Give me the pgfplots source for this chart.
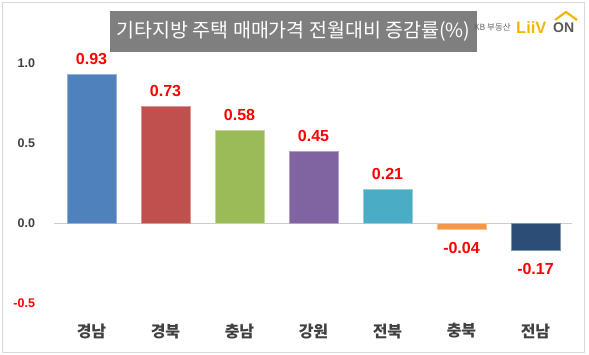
\documentclass[border=0pt]{standalone}
\usepackage{fontspec}
\setmainfont{Liberation Sans}
\newfontfamily\kr{Noto Sans CJK KR}
\usepackage{pgfplots}
\pgfplotsset{compat=1.18}
\definecolor{c1}{HTML}{4F81BD}
\definecolor{c2}{HTML}{C0504D}
\definecolor{c3}{HTML}{9BBB59}
\definecolor{c4}{HTML}{8064A2}
\definecolor{c5}{HTML}{4BACC6}
\definecolor{c6}{HTML}{F79646}
\definecolor{c7}{HTML}{2C4D75}
\definecolor{tick}{HTML}{404040}
\definecolor{titlebg}{HTML}{7F7F7F}
\definecolor{liiv}{HTML}{F2B705}
\begin{document}
\begin{tikzpicture}[x=1pt,y=1pt]
\useasboundingbox (0pt,0pt) rectangle (589pt,355pt);
\draw[black!15] (2.5pt,2.5pt) rectangle (584pt,353pt);
% title
\node[fill=titlebg, minimum width=367pt, minimum height=41pt, inner sep=0pt, text=white] at (293.5pt,323.5pt)
  {\kr\fontsize{19.5}{22}\selectfont 기타지방 주택 매매가격 전월대비 증감률(\%)};
% logo
\node[text=black!60, anchor=west, inner sep=0pt] at (474pt,328pt) {\kr\fontsize{8.5}{10}\selectfont KB 부동산};
\node[text=liiv, anchor=west, inner sep=0pt] at (516pt,327pt) {\bfseries\fontsize{16.5}{18}\selectfont LiiV};
\node[text=black!65, anchor=west, inner sep=0pt] at (553pt,327pt) {\bfseries\fontsize{14}{16}\selectfont ON};
\draw[liiv, line width=2.2pt] (555pt,335pt) -- (566pt,343pt) -- (577pt,335pt);
\begin{axis}[
  at={(54.5pt,52pt)}, anchor=south west, scale only axis,
  width=518pt, height=240pt,
  xmin=-0.5, xmax=6.5, ymin=-0.5, ymax=1.0,
  axis line style={draw=none},
  major tick length=0pt,
  ybar, bar width=49pt, bar shift=0pt,
  xtick={0,1,2,3,4,5,6},
  xticklabels={경남,경북,충남,강원,전북,충북,전남},
  xticklabel style={font=\kr\bfseries\fontsize{16}{18}\selectfont, text=tick, yshift=-17pt},
  ytick={-0.5,0,0.5,1},
  yticklabels={{\color{red}-0.5},0.0,0.5,1.0},
  yticklabel style={font=\bfseries\fontsize{12.5}{14}\selectfont, text=tick, xshift=-16pt},
  clip=false,
  nodes near coords,
  nodes near coords style={font=\bfseries\fontsize{16}{18}\selectfont, text=red, inner xsep=2pt, inner ysep=9pt,
     /pgf/number format/fixed, /pgf/number format/fixed zerofill, /pgf/number format/precision=2,
     /pgf/number format/assume math mode=true},
]
\draw[black!20] (axis cs:-0.5,0) -- (axis cs:6.5,0);
\addplot[fill=c1, draw=c1!60!white, line width=0.5pt] coordinates {(0,0.93)};
\addplot[fill=c2, draw=c2!60!white, line width=0.5pt] coordinates {(1,0.73)};
\addplot[fill=c3, draw=c3!60!white, line width=0.5pt] coordinates {(2,0.58)};
\addplot[fill=c4, draw=c4!60!white, line width=0.5pt] coordinates {(3,0.45)};
\addplot[fill=c5, draw=c5!60!white, line width=0.5pt] coordinates {(4,0.21)};
\addplot[fill=c6, draw=c6!60!white, line width=0.5pt, every node near coord/.append style={yshift=-4pt}] coordinates {(5,-0.04)};
\addplot[fill=c7, draw=c7!60!white, line width=0.5pt, every node near coord/.append style={yshift=-4pt}] coordinates {(6,-0.17)};
\end{axis}
\end{tikzpicture}
\end{document}
